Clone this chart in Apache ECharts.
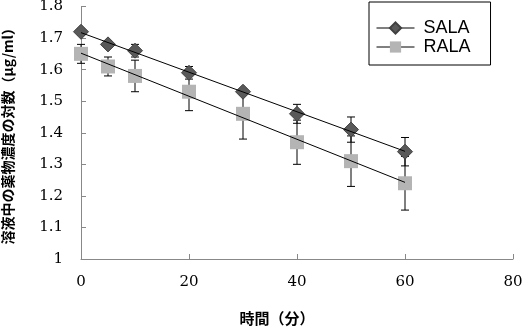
<!DOCTYPE html>
<html>
<head>
<meta charset="utf-8">
<script src="https://cdn.jsdelivr.net/npm/echarts@6/dist/echarts.min.js"></script>
<style>
  html, body { margin: 0; padding: 0; background: #fff; }
  #chart { width: 524px; height: 330px; }
</style>
</head>
<body>
<div id="chart"></div>
<script>
// Sampling times (min)
const times = [0, 5, 10, 20, 30, 40, 50, 60];
// log of drug concentration in solution, mean and SD
const salaMean = [1.72, 1.68, 1.66, 1.59, 1.53, 1.46, 1.41, 1.34];
const salaSD   = [0.01, 0.01, 0.02, 0.02, 0.01, 0.03, 0.04, 0.045];
const ralaMean = [1.65, 1.61, 1.58, 1.53, 1.46, 1.37, 1.31, 1.24];
const ralaSD   = [0.03, 0.03, 0.05, 0.06, 0.08, 0.07, 0.08, 0.085];
const seriesNames = ['SALA', 'RALA'];

// least-squares fit, drawn over the sampled range
function fitLine(xs, ys) {
  const n = xs.length;
  const mx = xs.reduce((a, b) => a + b, 0) / n;
  const my = ys.reduce((a, b) => a + b, 0) / n;
  let sxy = 0, sxx = 0;
  for (let i = 0; i < n; i++) {
    sxy += (xs[i] - mx) * (ys[i] - my);
    sxx += (xs[i] - mx) * (xs[i] - mx);
  }
  const b = sxy / sxx, a = my - b * mx;
  const x0 = xs[0], x1 = xs[n - 1];
  return [[x0, a + b * x0], [x1, a + b * x1]];
}

function pairs(xs, ys) { return xs.map((x, i) => [x, ys[i]]); }

function errorBars(means, sds) {
  return {
    type: 'custom',
    silent: true,
    z: 1,
    data: times.map((t, i) => [t, means[i] - sds[i], means[i] + sds[i]]),
    renderItem: function (params, api) {
      const lo = api.coord([api.value(0), api.value(1)]);
      const hi = api.coord([api.value(0), api.value(2)]);
      const w = 4;
      const st = { stroke: '#000', lineWidth: 1 };
      return {
        type: 'group',
        children: [
          { type: 'line', shape: { x1: lo[0], y1: lo[1], x2: hi[0], y2: hi[1] }, style: st },
          { type: 'line', shape: { x1: lo[0] - w, y1: lo[1], x2: lo[0] + w, y2: lo[1] }, style: st },
          { type: 'line', shape: { x1: hi[0] - w, y1: hi[1], x2: hi[0] + w, y2: hi[1] }, style: st }
        ]
      };
    }
  };
}

const serifFont = 'DejaVu Serif';
const gothicFont = '"Noto Sans CJK JP", "Noto Sans", sans-serif';

const chart = echarts.init(document.getElementById('chart'), null, { renderer: 'canvas' });
chart.setOption({
  animation: false,
  backgroundColor: '#fff',
  grid: { left: 81, right: 11, top: 6.5, bottom: 71, containLabel: false, outerBoundsMode: 'none' },
  legend: {
    data: seriesNames,
    left: 369,
    top: 2,
    orient: 'vertical',
    backgroundColor: '#fff',
    borderColor: '#000',
    borderWidth: 1,
    padding: [17, 20, 9, 7],
    itemGap: 1,
    itemWidth: 38,
    itemHeight: 14,
    lineStyle: { color: '#000', width: 1, opacity: 1 },
    textStyle: { fontFamily: 'Liberation Sans', fontSize: 18, color: '#000', padding: [0, 0, 0, 4] }
  },
  xAxis: {
    type: 'value',
    min: 0, max: 80, interval: 20,
    name: '時間（分）',
    nameLocation: 'middle',
    nameGap: 52,
    nameTextStyle: { fontFamily: gothicFont, fontSize: 15, fontWeight: 'bold', color: '#000',
      padding: [0, 40, 0, 0] },
    axisLine: { lineStyle: { color: '#888', width: 1 } },
    axisTick: { inside: true, length: 5, lineStyle: { color: '#888' } },
    axisLabel: { fontFamily: serifFont, fontSize: 15, color: '#000', margin: 16 },
    splitLine: { show: false }
  },
  yAxis: {
    type: 'value',
    min: 1, max: 1.8, interval: 0.1,
    name: '溶液中の薬物濃度の対数（μg/ml）',
    nameLocation: 'middle',
    nameRotate: 90,
    nameGap: 66,
    nameTextStyle: { fontFamily: gothicFont, fontSize: 14, fontWeight: 'bold', color: '#000' },
    axisLine: { show: true, lineStyle: { color: '#888', width: 1 } },
    axisTick: { show: true, inside: true, length: 5, lineStyle: { color: '#888' } },
    axisLabel: { fontFamily: serifFont, fontSize: 15, color: '#000', margin: 18,
      formatter: v => String(Math.round(v * 10) / 10) },
    splitLine: { show: false }
  },
  series: [
    errorBars(salaMean, salaSD),
    errorBars(ralaMean, ralaSD),
    {
      name: 'SALA', type: 'line', z: 3,
      data: pairs(times, salaMean),
      symbol: 'diamond', symbolSize: 15,
      lineStyle: { width: 0, opacity: 0 },
      itemStyle: { color: '#595959', borderColor: '#404040', borderWidth: 1 }
    },
    {
      name: 'RALA', type: 'line', z: 3,
      data: pairs(times, ralaMean),
      symbol: 'rect', symbolSize: 14,
      lineStyle: { width: 0, opacity: 0 },
      itemStyle: { color: '#b4b4b4', borderWidth: 0 }
    },
    {
      type: 'line', z: 4, silent: true,
      data: fitLine(times, salaMean),
      showSymbol: false, symbol: 'none',
      lineStyle: { color: '#000', width: 1 }
    },
    {
      type: 'line', z: 4, silent: true,
      data: fitLine(times, ralaMean),
      showSymbol: false, symbol: 'none',
      lineStyle: { color: '#000', width: 1 }
    }
  ]
});
</script>
</body>
</html>
